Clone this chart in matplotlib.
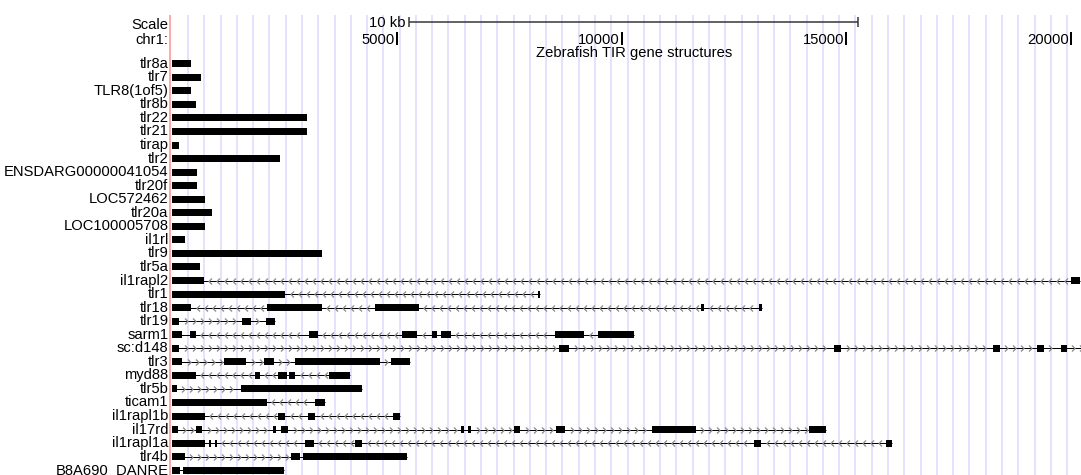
import matplotlib
matplotlib.use("Agg")
import matplotlib.pyplot as plt
from matplotlib.path import Path
import numpy as np

plt.rcParams['font.family'] = ['Liberation Sans', 'DejaVu Sans']

# ---------------- data (bp coordinates) ----------------
gene_names = ["tlr8a", "tlr7", "TLR8(1of5)", "tlr8b", "tlr22", "tlr21", "tirap", "tlr2",
              "ENSDARG00000041054", "tlr20f", "LOC572462", "tlr20a", "LOC100005708", "il1rl",
              "tlr9", "tlr5a", "il1rapl2", "tlr1", "tlr18", "tlr19", "sarm1", "sc:d148",
              "tlr3", "myd88", "tlr5b", "ticam1", "il1rapl1b", "il17rd", "il1rapl1a",
              "tlr4b", "B8A690_DANRE"]

gene_strands = ["+", "+", "+", "+", "+", "+", "+", "+",
                "+", "+", "+", "+", "+", "+",
                "+", "+", "-", "-", "-", "+", "-", "+",
                "+", "-", "+", "-", "-", "+", "-",
                "+", "+"]

exon_starts = [
    [0], [0], [0], [0], [0], [0], [0], [0],
    [0], [0], [0], [0], [0], [0],
    [0], [0],
    [0, 19998],                                               # il1rapl2
    [0, 8135],                                                # tlr1
    [0, 2103, 4507, 11763, 13054],                            # tlr18
    [0, 1547, 2081],                                          # tlr19
    [0, 389, 3038, 5108, 5776, 5976, 8513, 9470],             # sarm1
    [0, 8602, 14723, 18260, 19240, 19774],                    # sc:d148
    [0, 1151, 2037, 2727, 4863],                              # tlr3
    [0, 1836, 2348, 2593, 3483],                              # myd88
    [0, 1525],                                                # tlr5b
    [0, 3172],                                                # ticam1
    [0, 2348, 3016, 4908],                                    # il1rapl1b
    [0, 523, 2237, 2415, 6421, 6577, 7601, 8535, 10672, 14167],  # il17rd
    [0, 812, 946, 2949, 4062, 12943, 15872],                  # il1rapl1a
    [0, 2638, 2905],                                          # tlr4b
    [0, 234],                                                 # B8A690_DANRE
]

exon_ends = [
    [412], [634], [412], [523], [2994], [2994], [145], [2393],
    [545], [545], [723], [879], [723], [278],
    [3327], [612],
    [701, 20199],
    [2504, 8180],
    [412, 3327, 5486, 11830, 13121],
    [145, 1747, 2281],
    [212, 523, 3238, 5442, 5887, 6198, 9159, 10272],
    [145, 8825, 14879, 18416, 19396, 19908],
    [212, 1636, 2259, 4618, 5286],
    [523, 1947, 2549, 2727, 3951],
    [100, 4218],
    [2103, 3394],
    [723, 2504, 3172, 5064],
    [122, 657, 2304, 2571, 6488, 6644, 7735, 8736, 11651, 14546],
    [723, 857, 990, 3149, 4218, 13099, 16006],
    [278, 2838, 5220],
    [167, 2482],
]

# transcript end where the gene runs past the last visible exon
gene_tx_end = {"sc:d148": 20600}

position_ticks = [5000, 10000, 15000, 20000]
position_labels = ["5000", "10000", "15000", "20000"]
scale_bar_start = 5260
scale_bar_len = 10000
scale_label = "10 kb"
track_title = "Zebrafish TIR gene structures"

# ---------------- layout ----------------
W, H = 1081, 475
BP_PER_PX = 22.257
X0_PX = 172.5
def px2bp(p):
    return (p - X0_PX) * BP_PER_PX

fig = plt.figure(figsize=(W / 100, H / 100), dpi=100)
ax = fig.add_axes([0, 0, 1, 1])
ax.set_xlim(px2bp(0), px2bp(W))
ax.set_ylim(H, 0)
ax.axis("off")

PT = 72 / 100  # points per pixel

# guide lines
guide_x = np.arange(px2bp(188), px2bp(W), 16.28 * BP_PER_PX)
ax.vlines(guide_x, 15, H, colors="#DADAFF", linewidth=1.5 * PT, zorder=0)
ax.vlines(px2bp(170.5), 15, H, colors="#FFAAAA", linewidth=2 * PT, zorder=1)

FS = 10.6
label_x = px2bp(168.5)

# header
ax.text(label_x, 25, "Scale", ha="right", va="center", fontsize=FS)
ax.text(label_x, 39.5, "chr1:", ha="right", va="center", fontsize=FS)

sb0, sb1 = scale_bar_start, scale_bar_start + scale_bar_len
ax.hlines(22, sb0, sb1, colors="#333333", linewidth=1.5 * PT)
ax.vlines([sb0, sb1], 17, 27, colors="#333333", linewidth=1.5 * PT)
ax.text(sb0 - 3 * BP_PER_PX, 23, scale_label, ha="right", va="center", fontsize=FS)

for t, lab in zip(position_ticks, position_labels):
    ax.vlines(t, 32, 44.5, colors="black", linewidth=2 * PT)
    ax.text(t - 2.5 * BP_PER_PX, 39.5, lab, ha="right", va="center", fontsize=FS)

ax.text(px2bp(634), 53.5, track_title, ha="center", va="center", fontsize=FS)

# chevron markers
right_chev = Path([(-0.5, 1.0), (0.5, 0.0), (-0.5, -1.0)],
                  [Path.MOVETO, Path.LINETO, Path.LINETO])
left_chev = Path([(0.5, 1.0), (-0.5, 0.0), (0.5, -1.0)],
                 [Path.MOVETO, Path.LINETO, Path.LINETO])

ROW0, ROW_STEP = 63.7, 13.55
EXON_H = 7
CHEV_STEP = 8 * BP_PER_PX
CHEV_MARGIN = 2.5 * BP_PER_PX

for i, name in enumerate(gene_names):
    y = ROW0 + i * ROW_STEP
    starts = exon_starts[i]
    ends = exon_ends[i]
    ax.text(label_x, y, name, ha="right", va="center", fontsize=FS, clip_on=False)
    tx_start = starts[0]
    tx_end = gene_tx_end.get(name, ends[-1])
    if len(starts) > 1 or tx_end > ends[-1]:
        ax.hlines(y, tx_start, tx_end, colors="black", linewidth=1 * PT, zorder=2)
        # chevrons in introns
        gaps = list(zip(ends[:-1], starts[1:]))
        if tx_end > ends[-1]:
            gaps.append((ends[-1], tx_end))
        cx = []
        for g0, g1 in gaps:
            pos = np.arange(g0 + CHEV_MARGIN + 0.5 * CHEV_STEP, g1 - CHEV_MARGIN, CHEV_STEP)
            cx.extend(pos)
        if cx:
            ax.plot(cx, [y] * len(cx), linestyle="none",
                    marker=right_chev if gene_strands[i] == "+" else left_chev,
                    markersize=6 * PT, markerfacecolor="none",
                    markeredgecolor="#8c8c8c", markeredgewidth=1.3 * PT, zorder=3)
    ax.broken_barh([(s, e - s) for s, e in zip(starts, ends)],
                   (y - EXON_H / 2, EXON_H), facecolors="black", zorder=4)

fig.savefig("out.png", dpi=100)
